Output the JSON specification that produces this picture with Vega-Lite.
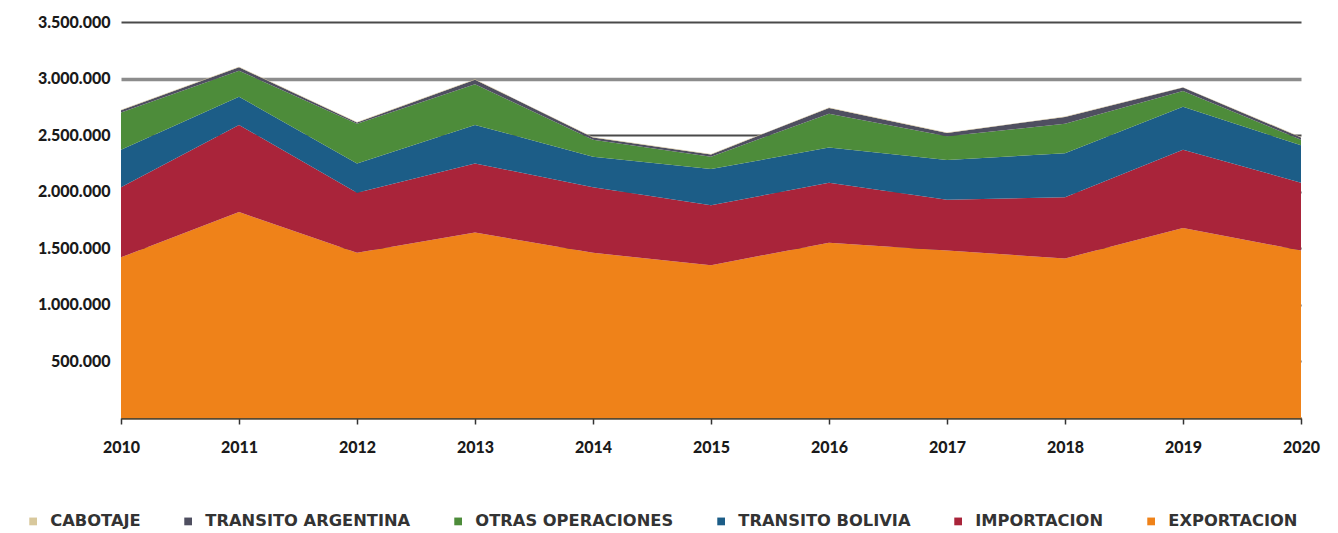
{
  "$schema": "https://vega.github.io/schema/vega-lite/v6.json",
  "width": 1180,
  "height": 396,
  "autosize": {"type": "none"},
  "padding": {"left": 121, "top": 22, "right": 37, "bottom": 115},
  "background": "white",
  "config": {
    "locale": {"number": {"decimal": ",", "thousands": ".", "grouping": [3], "currency": ["", ""]}},
    "view": {"stroke": null},
    "font": "Lato"
  },
  "data": {
    "values": [
      {"year": 2010, "tipo": "EXPORTACION", "orden": 1, "valor": 1420000},
      {"year": 2011, "tipo": "EXPORTACION", "orden": 1, "valor": 1820000},
      {"year": 2012, "tipo": "EXPORTACION", "orden": 1, "valor": 1460000},
      {"year": 2013, "tipo": "EXPORTACION", "orden": 1, "valor": 1640000},
      {"year": 2014, "tipo": "EXPORTACION", "orden": 1, "valor": 1460000},
      {"year": 2015, "tipo": "EXPORTACION", "orden": 1, "valor": 1350000},
      {"year": 2016, "tipo": "EXPORTACION", "orden": 1, "valor": 1550000},
      {"year": 2017, "tipo": "EXPORTACION", "orden": 1, "valor": 1480000},
      {"year": 2018, "tipo": "EXPORTACION", "orden": 1, "valor": 1410000},
      {"year": 2019, "tipo": "EXPORTACION", "orden": 1, "valor": 1680000},
      {"year": 2020, "tipo": "EXPORTACION", "orden": 1, "valor": 1480000},
      {"year": 2010, "tipo": "IMPORTACION", "orden": 2, "valor": 620000},
      {"year": 2011, "tipo": "IMPORTACION", "orden": 2, "valor": 770000},
      {"year": 2012, "tipo": "IMPORTACION", "orden": 2, "valor": 530000},
      {"year": 2013, "tipo": "IMPORTACION", "orden": 2, "valor": 610000},
      {"year": 2014, "tipo": "IMPORTACION", "orden": 2, "valor": 580000},
      {"year": 2015, "tipo": "IMPORTACION", "orden": 2, "valor": 530000},
      {"year": 2016, "tipo": "IMPORTACION", "orden": 2, "valor": 530000},
      {"year": 2017, "tipo": "IMPORTACION", "orden": 2, "valor": 450000},
      {"year": 2018, "tipo": "IMPORTACION", "orden": 2, "valor": 540000},
      {"year": 2019, "tipo": "IMPORTACION", "orden": 2, "valor": 690000},
      {"year": 2020, "tipo": "IMPORTACION", "orden": 2, "valor": 600000},
      {"year": 2010, "tipo": "TRANSITO BOLIVIA", "orden": 3, "valor": 330000},
      {"year": 2011, "tipo": "TRANSITO BOLIVIA", "orden": 3, "valor": 250000},
      {"year": 2012, "tipo": "TRANSITO BOLIVIA", "orden": 3, "valor": 260000},
      {"year": 2013, "tipo": "TRANSITO BOLIVIA", "orden": 3, "valor": 340000},
      {"year": 2014, "tipo": "TRANSITO BOLIVIA", "orden": 3, "valor": 270000},
      {"year": 2015, "tipo": "TRANSITO BOLIVIA", "orden": 3, "valor": 320000},
      {"year": 2016, "tipo": "TRANSITO BOLIVIA", "orden": 3, "valor": 310000},
      {"year": 2017, "tipo": "TRANSITO BOLIVIA", "orden": 3, "valor": 350000},
      {"year": 2018, "tipo": "TRANSITO BOLIVIA", "orden": 3, "valor": 390000},
      {"year": 2019, "tipo": "TRANSITO BOLIVIA", "orden": 3, "valor": 380000},
      {"year": 2020, "tipo": "TRANSITO BOLIVIA", "orden": 3, "valor": 330000},
      {"year": 2010, "tipo": "OTRAS OPERACIONES", "orden": 4, "valor": 330000},
      {"year": 2011, "tipo": "OTRAS OPERACIONES", "orden": 4, "valor": 230000},
      {"year": 2012, "tipo": "OTRAS OPERACIONES", "orden": 4, "valor": 350000},
      {"year": 2013, "tipo": "OTRAS OPERACIONES", "orden": 4, "valor": 360000},
      {"year": 2014, "tipo": "OTRAS OPERACIONES", "orden": 4, "valor": 150000},
      {"year": 2015, "tipo": "OTRAS OPERACIONES", "orden": 4, "valor": 110000},
      {"year": 2016, "tipo": "OTRAS OPERACIONES", "orden": 4, "valor": 300000},
      {"year": 2017, "tipo": "OTRAS OPERACIONES", "orden": 4, "valor": 210000},
      {"year": 2018, "tipo": "OTRAS OPERACIONES", "orden": 4, "valor": 260000},
      {"year": 2019, "tipo": "OTRAS OPERACIONES", "orden": 4, "valor": 140000},
      {"year": 2020, "tipo": "OTRAS OPERACIONES", "orden": 4, "valor": 50000},
      {"year": 2010, "tipo": "TRANSITO ARGENTINA", "orden": 5, "valor": 20000},
      {"year": 2011, "tipo": "TRANSITO ARGENTINA", "orden": 5, "valor": 30000},
      {"year": 2012, "tipo": "TRANSITO ARGENTINA", "orden": 5, "valor": 12000},
      {"year": 2013, "tipo": "TRANSITO ARGENTINA", "orden": 5, "valor": 40000},
      {"year": 2014, "tipo": "TRANSITO ARGENTINA", "orden": 5, "valor": 20000},
      {"year": 2015, "tipo": "TRANSITO ARGENTINA", "orden": 5, "valor": 20000},
      {"year": 2016, "tipo": "TRANSITO ARGENTINA", "orden": 5, "valor": 50000},
      {"year": 2017, "tipo": "TRANSITO ARGENTINA", "orden": 5, "valor": 30000},
      {"year": 2018, "tipo": "TRANSITO ARGENTINA", "orden": 5, "valor": 60000},
      {"year": 2019, "tipo": "TRANSITO ARGENTINA", "orden": 5, "valor": 30000},
      {"year": 2020, "tipo": "TRANSITO ARGENTINA", "orden": 5, "valor": 20000},
      {"year": 2010, "tipo": "CABOTAJE", "orden": 6, "valor": 4000},
      {"year": 2011, "tipo": "CABOTAJE", "orden": 6, "valor": 4000},
      {"year": 2012, "tipo": "CABOTAJE", "orden": 6, "valor": 4000},
      {"year": 2013, "tipo": "CABOTAJE", "orden": 6, "valor": 4000},
      {"year": 2014, "tipo": "CABOTAJE", "orden": 6, "valor": 4000},
      {"year": 2015, "tipo": "CABOTAJE", "orden": 6, "valor": 4000},
      {"year": 2016, "tipo": "CABOTAJE", "orden": 6, "valor": 4000},
      {"year": 2017, "tipo": "CABOTAJE", "orden": 6, "valor": 4000},
      {"year": 2018, "tipo": "CABOTAJE", "orden": 6, "valor": 4000},
      {"year": 2019, "tipo": "CABOTAJE", "orden": 6, "valor": 4000},
      {"year": 2020, "tipo": "CABOTAJE", "orden": 6, "valor": 4000}
    ]
  },
  "mark": {"type": "area", "interpolate": "linear"},
  "encoding": {
    "x": {
      "field": "year",
      "type": "quantitative",
      "scale": {"domain": [2010, 2020], "nice": false, "zero": false},
      "axis": {
        "title": null,
        "values": [2010, 2011, 2012, 2013, 2014, 2015, 2016, 2017, 2018, 2019, 2020],
        "format": "d",
        "grid": false,
        "domainColor": "#5a4a32",
        "domainWidth": 2,
        "tickColor": "#333333",
        "tickSize": 6,
        "tickWidth": 1.5,
        "labelFont": "Lato",
        "labelFontWeight": 900,
        "labelFontSize": 16,
        "labelColor": "#1a1a1a",
        "labelPadding": 15,
        "labelFlush": false
      }
    },
    "y": {
      "field": "valor",
      "type": "quantitative",
      "stack": "zero",
      "scale": {"domain": [0, 3500000], "nice": false},
      "axis": {
        "title": null,
        "values": [0, 500000, 1000000, 1500000, 2000000, 2500000, 3000000, 3500000],
        "format": ",d",
        "labelExpr": "datum.value == 0 ? '' : datum.label",
        "domain": false,
        "ticks": false,
        "grid": true,
        "gridColor": {"condition": {"test": "datum.value == 3000000", "value": "#8c8c8c"}, "value": "#4a4a4a"},
        "gridWidth": {"condition": {"test": "datum.value == 3000000", "value": 3.5}, "value": 2},
        "labelFont": "Lato",
        "labelFontWeight": 900,
        "labelFontSize": 16,
        "labelColor": "#1a1a1a",
        "labelPadding": 11
      }
    },
    "color": {
      "field": "tipo",
      "type": "nominal",
      "scale": {
        "domain": ["CABOTAJE", "TRANSITO ARGENTINA", "OTRAS OPERACIONES", "TRANSITO BOLIVIA", "IMPORTACION", "EXPORTACION"],
        "range": ["#d8c89c", "#4f4f60", "#4d8c3a", "#1c5d87", "#a9243a", "#ef8219"]
      },
      "legend": {
        "title": null,
        "orient": "none",
        "direction": "horizontal",
        "legendX": -96,
        "legendY": 491,
        "columns": 6,
        "columnPadding": 39,
        "symbolType": "square",
        "symbolSize": 60,
        "symbolStrokeWidth": 0,
        "labelFont": "DejaVu Sans",
        "labelFontWeight": "bold",
        "labelFontSize": 16.3,
        "labelLimit": 400,
        "labelColor": "#333333",
        "labelOffset": 9
      }
    },
    "order": {"field": "orden", "type": "quantitative", "sort": "ascending"}
  }
}
